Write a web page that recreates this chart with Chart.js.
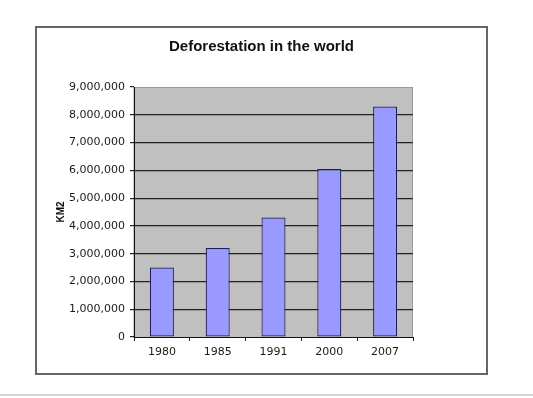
<!DOCTYPE html>
<html>
<head>
<meta charset="utf-8">
<script src="https://cdn.jsdelivr.net/npm/chart.js@4/dist/chart.umd.min.js"></script>
<style>
  html, body { margin: 0; padding: 0; background: #fff; }
  body { width: 533px; height: 398px; position: relative; overflow: hidden; }
  #frame {
    position: absolute; left: 35px; top: 26px;
    width: 453px; height: 349px; box-sizing: border-box;
    border: 2px solid #666; background: #fff;
  }
  #frame canvas { display: block; }
  #baseLine { position: absolute; left: 0; top: 394px; width: 533px; height: 2px; background: #d4d4d4; }
</style>
</head>
<body>
<div id="frame"><canvas id="chart" width="449" height="345"></canvas></div>
<div id="baseLine"></div>
<script>
// данные графика
const years = ['1980', '1985', '1991', '2000', '2007'];
const deforestation = [2500000, 3200000, 4300000, 6050000, 8300000];
const yTicks = { min: 0, max: 9000000, step: 1000000 };

const chartTitle = 'Deforestation in the world';
const yAxisTitle = 'KM2';

// серый фон области построения
const plotAreaPlugin = {
  id: 'plotArea',
  beforeDraw(chart) {
    const { ctx, chartArea: a } = chart;
    ctx.save();
    ctx.fillStyle = '#c0c0c0';
    ctx.fillRect(a.left, a.top, a.right - a.left, a.bottom - a.top);
    ctx.strokeStyle = '#9a9a9a';
    ctx.lineWidth = 1;
    ctx.strokeRect(a.left, a.top + 0.5, a.right - a.left - 0.5, a.bottom - a.top);
    ctx.restore();
  },
};

const tickFont = { family: 'DejaVu Sans', size: 11 };

const ctx = document.getElementById('chart').getContext('2d');
new Chart(ctx, {
  type: 'bar',
  data: {
    labels: years,
    datasets: [{
      label: yAxisTitle,
      data: deforestation,
      backgroundColor: '#9999ff',
      borderColor: '#1c1c5c',
      borderWidth: 1.2,
      borderSkipped: false,
      categoryPercentage: 1,
      barPercentage: 0.43,
    }],
  },
  options: {
    animation: false,
    responsive: false,
    layout: { padding: 0 },
    plugins: {
      legend: { display: false },
      tooltip: { enabled: false },
      title: {
        display: true,
        text: chartTitle,
        color: '#111',
        font: { family: 'Liberation Sans', size: 15, weight: 'bold', lineHeight: 1.2 },
        padding: { top: 9.5, bottom: 31.5 },
      },
    },
    scales: {
      x: {
        offset: true,
        afterFit: (scale) => { scale.height = 36; },
        grid: {
          offset: true,
          drawOnChartArea: false,
          drawTicks: true,
          tickLength: 4,
          tickColor: '#222',
        },
        border: { display: true, color: '#111', width: 1 },
        ticks: { color: '#1a1a1a', font: tickFont, padding: 5, maxRotation: 0 },
      },
      y: {
        min: yTicks.min,
        max: yTicks.max,
        afterFit: (scale) => { scale.width = 97; },
        ticks: {
          stepSize: yTicks.step,
          color: '#1a1a1a',
          font: tickFont,
          padding: 5,
          callback: (v) => v.toLocaleString('en-US'),
        },
        grid: {
          tickLength: 4,
          tickColor: '#222',
          lineWidth: 1.2,
          color: (c) => (c.tick && (c.tick.value === yTicks.max || c.tick.value === 0) ? 'rgba(0,0,0,0)' : '#222'),
        },
        border: { display: true, color: '#111', width: 1 },
        title: {
          display: true,
          text: yAxisTitle,
          color: '#111',
          font: { family: 'Liberation Sans', size: 10, weight: 'bold', lineHeight: 1.2 },
          padding: { top: 18, bottom: 0 },
        },
      },
      // пустая правая ось — задаёт отступ справа
      yRight: {
        position: 'right',
        display: true,
        afterFit: (scale) => { scale.width = 73; },
        grid: { display: false },
        border: { display: false },
        ticks: { display: false },
      },
    },
  },
  plugins: [plotAreaPlugin],
});
</script>
</body>
</html>
